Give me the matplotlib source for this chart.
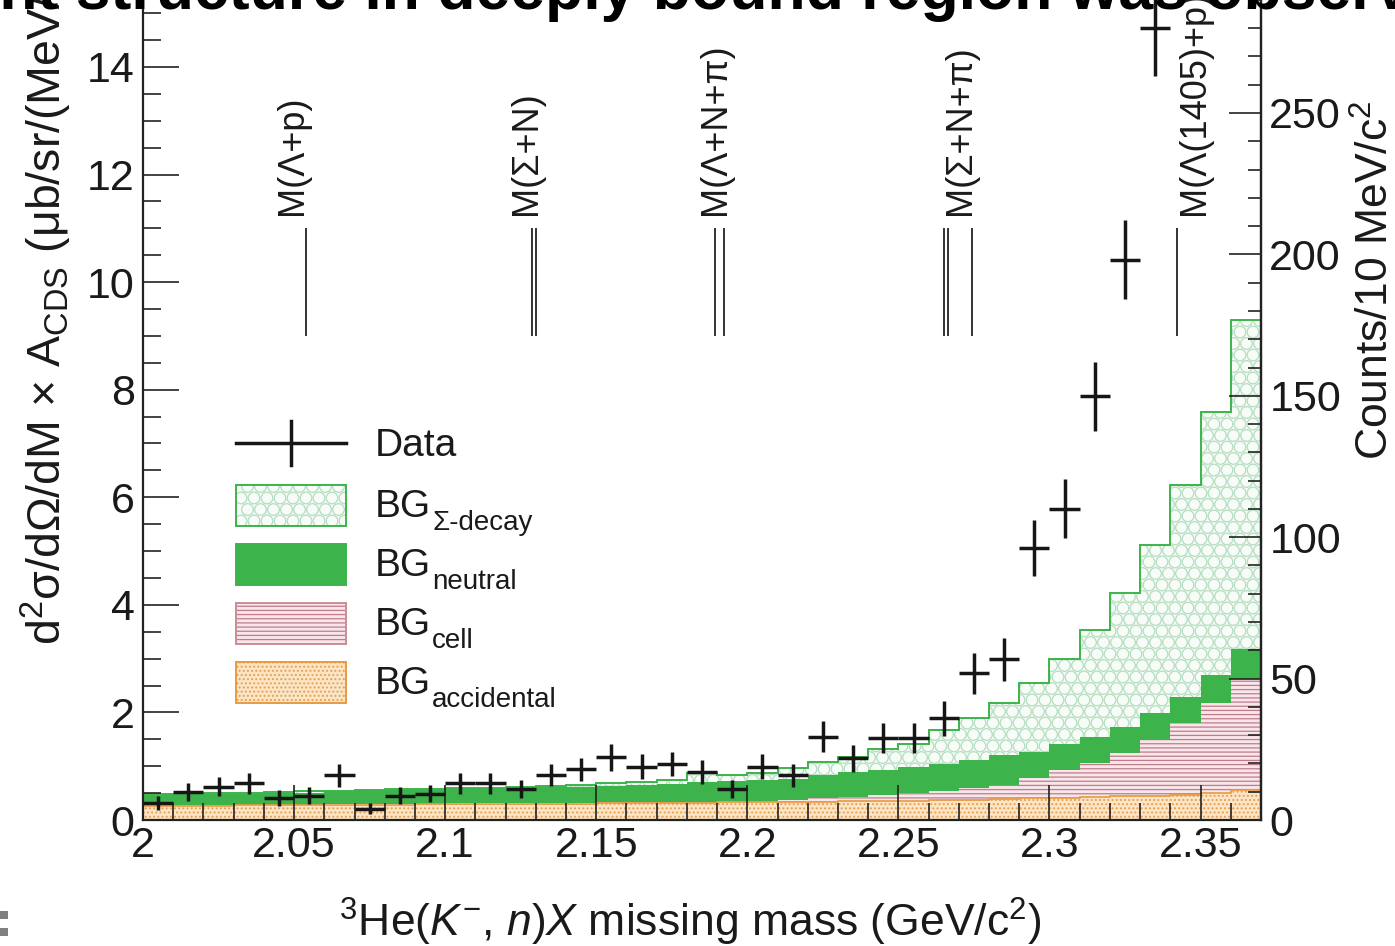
import numpy as np
import matplotlib
matplotlib.use('Agg')
import matplotlib.pyplot as plt
from matplotlib.patches import Rectangle
from matplotlib.lines import Line2D
from matplotlib.transforms import IdentityTransform
from matplotlib.ticker import MultipleLocator, FuncFormatter

plt.rcParams['font.family'] = ['Liberation Sans', 'DejaVu Sans']
plt.rcParams['mathtext.fontset'] = 'custom'
plt.rcParams['mathtext.rm'] = 'Liberation Sans'
plt.rcParams['mathtext.it'] = 'Liberation Sans:italic'
plt.rcParams['mathtext.bf'] = 'Liberation Sans:bold'
plt.rcParams['hatch.linewidth'] = 0.9

# ---------------- data ----------------
bin_edges = np.round(np.linspace(2.00, 2.37, 38), 3)

accidental_top = [0.26, 0.26, 0.26, 0.27, 0.27, 0.27, 0.28, 0.28, 0.28, 0.29,
                  0.29, 0.29, 0.30, 0.30, 0.30, 0.31, 0.31, 0.32, 0.32, 0.33,
                  0.33, 0.34, 0.34, 0.35, 0.36, 0.36, 0.37, 0.38, 0.39, 0.40,
                  0.41, 0.42, 0.44, 0.45, 0.47, 0.50, 0.55]
cell_top = [0.27, 0.27, 0.27, 0.28, 0.28, 0.28, 0.29, 0.29, 0.29, 0.30,
            0.31, 0.31, 0.32, 0.32, 0.32, 0.33, 0.33, 0.34, 0.34, 0.35,
            0.36, 0.38, 0.40, 0.42, 0.46, 0.50, 0.54, 0.59, 0.65, 0.78,
            0.93, 1.06, 1.24, 1.49, 1.80, 2.17, 2.62]
neutral_top = [0.46, 0.47, 0.48, 0.49, 0.50, 0.51, 0.52, 0.53, 0.55, 0.56,
               0.57, 0.58, 0.60, 0.61, 0.62, 0.64, 0.65, 0.67, 0.70, 0.72,
               0.74, 0.77, 0.84, 0.90, 0.93, 0.99, 1.05, 1.11, 1.21, 1.27,
               1.42, 1.55, 1.73, 1.98, 2.29, 2.70, 3.17]
sigma_decay_top = [0.48, 0.49, 0.50, 0.51, 0.52, 0.53, 0.54, 0.55, 0.57, 0.58,
                   0.59, 0.60, 0.62, 0.63, 0.65, 0.69, 0.71, 0.75, 0.87, 0.84,
                   0.87, 0.96, 1.07, 1.18, 1.32, 1.41, 1.68, 1.89, 2.17, 2.54,
                   2.99, 3.54, 4.22, 5.11, 6.22, 7.58, 9.29]

data_value = [0.32, 0.52, 0.62, 0.68, 0.41, 0.45, 0.83, 0.21, 0.45, 0.49,
              0.68, 0.68, 0.57, 0.84, 0.94, 1.17, 0.99, 1.04, 0.89, 0.57,
              0.99, 0.83, 1.55, 1.15, 1.52, 1.52, 1.89, 2.73, 2.99, 5.05,
              5.79, 7.88, 10.42, 14.72]
data_err = [0.13, 0.165, 0.18, 0.19, 0.15, 0.155, 0.21, 0.105, 0.155, 0.16,
            0.19, 0.19, 0.17, 0.21, 0.22, 0.25, 0.23, 0.23, 0.22, 0.17,
            0.23, 0.21, 0.29, 0.25, 0.28, 0.28, 0.32, 0.38, 0.40, 0.52,
            0.55, 0.64, 0.74, 0.88]
data_mass = bin_edges[:len(data_value)] + 0.005

threshold_labels = ['M(Λ+p)', 'M(Σ+N)', 'M(Λ+N+π)', 'M(Σ+N+π)', 'M(Λ(1405)+p)']
threshold_lines = [[2.0538], [2.1288, 2.1302], [2.1893, 2.1922],
                   [2.2650, 2.2663, 2.2745], [2.3422]]
threshold_label_x = [2.0495, 2.1268, 2.1895, 2.2704, 2.348]

counts_per_unit = 19.02  # right-axis counts per left-axis unit

# ---------------- figure ----------------
W, H = 1395, 946
fig = plt.figure(figsize=(W / 100, H / 100), dpi=100)


def fx(px):
    return px / W


def fy(py):
    return 1 - py / H


ax = fig.add_axes([fx(143), fy(820), fx(1261) - fx(143), (820 + 4) / H])
YMAX = 824 / 53.79
ax.set_xlim(2.0, 2.37)
ax.set_ylim(0, YMAX)
ax.autoscale(False)

GREEN = '#3cb44b'
SIG_FACE = '#f7fcf8'
SIG_CIRC = '#b3ddbe'
CELL_FACE = '#f8e6ea'
CELL_LINE = '#bf7d8b'
ACC_FACE = '#fde5c4'
ACC_DOT = '#e0a058'


def circle_fill(axes, clip_patch, x0, y0, x1, y1, z):
    """light-green circle texture (display pixels), clipped to a patch"""
    pts_x, pts_y = [], []
    dy, dx = 11.5, 13.0
    row = 0
    y = y0 + 5
    while y < y1 + dy:
        off = (dx / 2) if row % 2 else 0
        x = x0 + 5 + off
        while x < x1 + dx:
            pts_x.append(x)
            pts_y.append(y)
            x += dx
        y += dy
        row += 1
    sc = axes.scatter(pts_x, pts_y, s=70, marker='o', facecolors='none',
                      edgecolors=SIG_CIRC, linewidths=0.9,
                      transform=IdentityTransform(), zorder=z)
    sc.set_clip_path(clip_patch)
    return sc


# accidental
ax.stairs(accidental_top, bin_edges, baseline=0, fill=True,
          facecolor=ACC_FACE, edgecolor=ACC_DOT, hatch='....', lw=0, zorder=1)
# cell
ax.stairs(cell_top, bin_edges, baseline=accidental_top, fill=True,
          facecolor=CELL_FACE, edgecolor=CELL_LINE, hatch='----', lw=0, zorder=1)
# neutral
ax.stairs(neutral_top, bin_edges, baseline=cell_top, fill=True,
          facecolor=GREEN, edgecolor=GREEN, lw=0, zorder=1)
# sigma decay
sig_patch = ax.stairs(sigma_decay_top, bin_edges, baseline=neutral_top, fill=True,
                      facecolor=SIG_FACE, edgecolor=SIG_FACE, lw=0, zorder=1)
bx0, by0, bx1, by1 = ax.bbox.extents
circle_fill(ax, sig_patch, bx0, by0, bx1, by1, 1.1)
# outlines
ax.stairs(sigma_decay_top, bin_edges, baseline=None, color=GREEN, lw=1.4, zorder=1.2)
ax.stairs(accidental_top, bin_edges, baseline=None, color='#e89a40', lw=1.2, zorder=1.2)

# data
ax.errorbar(data_mass, data_value, xerr=0.005, yerr=data_err, fmt='none',
            ecolor='#161616', elinewidth=2.5, capsize=0, zorder=5)

# thresholds
for lab, xs, lx in zip(threshold_labels, threshold_lines, threshold_label_x):
    ax.vlines(xs, 9.0, 11.0, color='#333333', lw=1.4, zorder=3)
    ax.text(lx, 11.25, lab, rotation=90, ha='center', va='bottom',
            fontsize=26, color='#1a1a1a', zorder=3)

ax.xaxis.set_major_locator(MultipleLocator(0.05))
ax.xaxis.set_minor_locator(MultipleLocator(0.01))
ax.yaxis.set_major_locator(MultipleLocator(2))
ax.yaxis.set_minor_locator(MultipleLocator(0.5))
ax.xaxis.set_major_formatter(FuncFormatter(lambda v, p: '%g' % round(v, 3)))
ax.yaxis.set_major_formatter(FuncFormatter(lambda v, p: '%g' % round(v, 3)))

ax.tick_params(axis='both', which='both', direction='in', top=False, right=False,
               colors='#222222', labelcolor='#1a1a1a')
ax.tick_params(axis='y', which='major', length=26, width=1.2, labelsize=31, pad=6)
ax.tick_params(axis='y', which='minor', length=13, width=1.2)
ax.tick_params(axis='x', which='major', length=25, width=1.2, labelsize=31, pad=4)
ax.tick_params(axis='x', which='minor', length=12, width=1.2)
for s in ['left', 'bottom', 'right']:
    ax.spines[s].set_linewidth(1.6)
    ax.spines[s].set_color('#222222')
ax.spines['top'].set_visible(False)

# legend (manual, drawn inside the main axes in figure-pixel positions)
ax.add_line(Line2D([fx(236), fx(346)], [fy(443), fy(443)], color='#161616', lw=2.5,
                   transform=fig.transFigure, clip_on=False, zorder=6))
ax.add_line(Line2D([fx(291), fx(291)], [fy(421), fy(465)], color='#161616', lw=2.5,
                   transform=fig.transFigure, clip_on=False, zorder=6))
fig.text(fx(375), fy(456), 'Data', fontsize=28, va='baseline', ha='left', color='#1a1a1a')

legend_boxes = [
    dict(fc=SIG_FACE, ec=SIG_FACE, hatch=None, edge=GREEN, top=485, sub='Σ-decay', circ=True),
    dict(fc=GREEN, ec=GREEN, hatch=None, edge=GREEN, top=544, sub='neutral', circ=False),
    dict(fc=CELL_FACE, ec=CELL_LINE, hatch='----', edge='#c98e98', top=603, sub='cell', circ=False),
    dict(fc=ACC_FACE, ec=ACC_DOT, hatch='....', edge='#e89a40', top=662, sub='accidental', circ=False),
]
for b in legend_boxes:
    rect = Rectangle((fx(236), fy(b['top'] + 41)), fx(346) - fx(236), 41 / H,
                     transform=fig.transFigure, facecolor=b['fc'],
                     edgecolor=b['ec'], hatch=b['hatch'], lw=0, zorder=6, clip_on=False)
    ax.add_patch(rect)
    if b['circ']:
        circle_fill(ax, rect, 236, H - (b['top'] + 41), 346, H - b['top'], 6.1)
    ax.add_patch(Rectangle((fx(236), fy(b['top'] + 41)), fx(346) - fx(236), 41 / H,
                           transform=fig.transFigure, facecolor='none',
                           edgecolor=b['edge'], lw=1.4, zorder=6.2, clip_on=False))
    fig.text(fx(375), fy(b['top'] + 32), 'BG', fontsize=28, va='baseline',
             ha='left', color='#1a1a1a')
    fig.text(fx(432), fy(b['top'] + 45), b['sub'], fontsize=20, va='baseline',
             ha='left', color='#1a1a1a')

ax2 = ax.twinx()
ax2.set_ylim(0, YMAX * counts_per_unit)
ax2.yaxis.set_major_locator(MultipleLocator(50))
ax2.yaxis.set_minor_locator(MultipleLocator(10))
ax2.tick_params(axis='y', which='both', direction='in', colors='#222222',
                labelcolor='#1a1a1a')
ax2.tick_params(axis='y', which='major', length=23, width=1.2, labelsize=31, pad=6)
ax2.tick_params(axis='y', which='minor', length=9.5, width=1.2)
for s in ['left', 'bottom', 'top']:
    ax2.spines[s].set_visible(False)
ax2.spines['right'].set_linewidth(1.6)
ax2.spines['right'].set_color('#222222')

# axis labels
fig.text(fx(690), fy(937), r'$^{3}$He($K^{-}$, $n$)$X$ missing mass (GeV/c$^{2}$)',
         ha='center', va='baseline', fontsize=32, color='#1a1a1a')
fig.text(fx(46), fy(645), r'd$^{2}$σ/dΩ/dM × A$_{\mathrm{CDS}}$ (μb/sr/(MeV/c$^{2}$))',
         rotation=90, ha='center', va='bottom', fontsize=33.5, color='#1a1a1a')
fig.text(fx(1376), fy(280), r'Counts/10 MeV/c$^{2}$', rotation=90,
         ha='center', va='center', fontsize=32, color='#1a1a1a')

# cut-off slide title at the top edge
fig.text(fx(-355), fy(9), 'No significant structure in deeply bound region was observed',
         fontsize=45, fontweight='bold', ha='left', va='baseline', color='black')

# small grey slide marks at bottom-left
for py in (911, 928):
    fig.add_artist(Rectangle((0, fy(py + 8)), fx(8), 8 / H, transform=fig.transFigure,
                             facecolor='#808080', edgecolor='none'))

fig.savefig('out.png', dpi=100)
